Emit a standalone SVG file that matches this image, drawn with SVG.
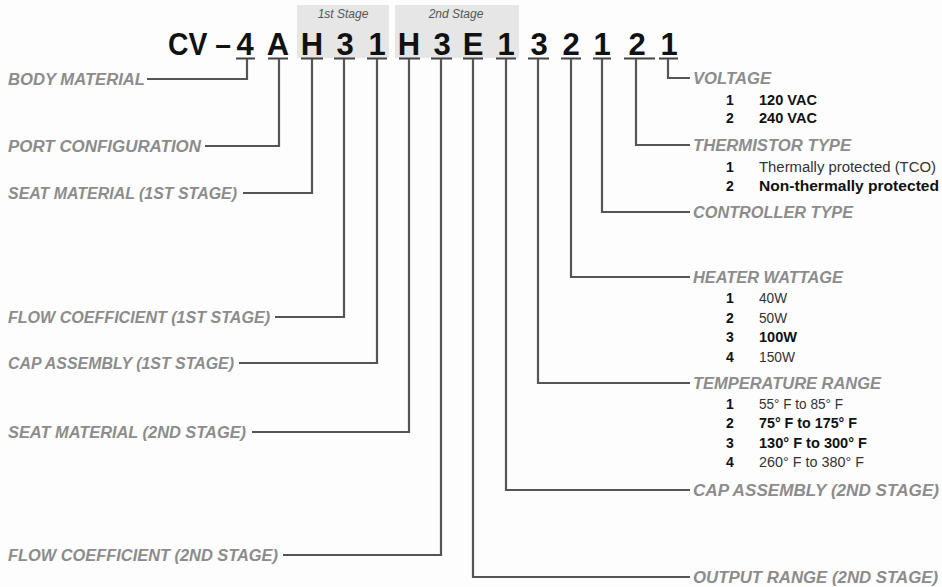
<svg xmlns="http://www.w3.org/2000/svg" width="942" height="587" viewBox="0 0 942 587">
<style>
.bg{fill:#fdfdfd}
.stagebox{fill:#e6e6e6}
.stage{font-family:"Liberation Sans",Arial,sans-serif;font-style:italic;font-size:12px;fill:#555;text-anchor:middle}
.code{font-family:"Liberation Sans",Arial,sans-serif;font-weight:bold;font-size:31px;fill:#111;text-anchor:middle}
.ul{stroke:#444;stroke-width:2.2;fill:none}
.conn path{stroke:#555;stroke-width:2.2;fill:none}
.lbl{font-family:"Liberation Sans",Arial,sans-serif;font-weight:bold;font-style:italic;font-size:16px;fill:#8c8c8c}
.num{font-family:"Liberation Sans",Arial,sans-serif;font-weight:bold;font-size:14px;fill:#111;text-anchor:middle}
.val{font-family:"Liberation Sans",Arial,sans-serif;font-size:14px;fill:#333}
.valb{font-family:"Liberation Sans",Arial,sans-serif;font-weight:bold;font-size:14px;fill:#111}
</style>
<rect class="bg" x="0" y="0" width="942" height="587"/>
<g id="stages">
<rect class="stagebox" x="297" y="5" width="92" height="53"/>
<rect class="stagebox" x="395" y="5" width="124" height="53"/>
<text class="stage" x="343" y="18">1st Stage</text>
<text class="stage" x="456" y="18">2nd Stage</text>
</g>
<g id="code">
<text class="code" x="231" y="55" style="text-anchor:end" textLength="63" lengthAdjust="spacingAndGlyphs">CV –</text>
<text class="code" x="245" y="55">4</text>
<text class="code" x="278" y="55">A</text>
<text class="code" x="312" y="55">H</text>
<text class="code" x="345" y="55">3</text>
<text class="code" x="377" y="55">1</text>
<text class="code" x="409" y="55">H</text>
<text class="code" x="442" y="55">3</text>
<text class="code" x="473" y="55">E</text>
<text class="code" x="506" y="55">1</text>
<text class="code" x="539" y="55">3</text>
<text class="code" x="571" y="55">2</text>
<text class="code" x="602" y="55">1</text>
<text class="code" x="637" y="55">2</text>
<text class="code" x="669" y="55">1</text>
<path class="ul" d="M236 58.5h19M268 58.5h20M301 58.5h22M334 58.5h21M367 58.5h20M399 58.5h21M431 58.5h21M463 58.5h20M496 58.5h20M528 58.5h21M561 58.5h20M593 58.5h18M624 58.5h31M659 58.5h19"/>
</g>
<g class="conn" id="connectors">
<path d="M247 59V79H147"/>
<path d="M279 59V146H205"/>
<path d="M312 59V193H243"/>
<path d="M344 59V317H275"/>
<path d="M377 59V363H239"/>
<path d="M409 59V432H252"/>
<path d="M441 59V555H283"/>
<path d="M473 59V577H690"/>
<path d="M506 59V490H690"/>
<path d="M538 59V383H690"/>
<path d="M571 59V277H690"/>
<path d="M602 59V212H690"/>
<path d="M636 59V145H690"/>
<path d="M668 59V78H690"/>
</g>
<g id="body-material"><text class="lbl" x="8" y="85" textLength="137" lengthAdjust="spacingAndGlyphs">BODY MATERIAL</text></g>
<g id="port-configuration"><text class="lbl" x="8" y="152" textLength="193" lengthAdjust="spacingAndGlyphs">PORT CONFIGURATION</text></g>
<g id="seat-material-1"><text class="lbl" x="8" y="199" textLength="229" lengthAdjust="spacingAndGlyphs">SEAT MATERIAL (1ST STAGE)</text></g>
<g id="flow-coefficient-1"><text class="lbl" x="8" y="323" textLength="262" lengthAdjust="spacingAndGlyphs">FLOW COEFFICIENT (1ST STAGE)</text></g>
<g id="cap-assembly-1"><text class="lbl" x="8" y="369" textLength="226" lengthAdjust="spacingAndGlyphs">CAP ASSEMBLY (1ST STAGE)</text></g>
<g id="seat-material-2"><text class="lbl" x="8" y="438" textLength="238" lengthAdjust="spacingAndGlyphs">SEAT MATERIAL (2ND STAGE)</text></g>
<g id="flow-coefficient-2"><text class="lbl" x="8" y="561" textLength="270" lengthAdjust="spacingAndGlyphs">FLOW COEFFICIENT (2ND STAGE)</text></g>
<g id="voltage">
<text class="lbl" x="693" y="84" textLength="78" lengthAdjust="spacingAndGlyphs">VOLTAGE</text>
<text class="num" x="730" y="105">1</text><text class="valb" x="759" y="105" textLength="58" lengthAdjust="spacingAndGlyphs">120 VAC</text>
<text class="num" x="730" y="123">2</text><text class="valb" x="759" y="123" textLength="58" lengthAdjust="spacingAndGlyphs">240 VAC</text>
</g>
<g id="thermistor-type">
<text class="lbl" x="693" y="151" textLength="158" lengthAdjust="spacingAndGlyphs">THERMISTOR TYPE</text>
<text class="num" x="730" y="172">1</text><text class="val" x="759" y="172" textLength="177" lengthAdjust="spacingAndGlyphs">Thermally protected (TCO)</text>
<text class="num" x="730" y="191">2</text><text class="valb" x="759" y="191" textLength="180" lengthAdjust="spacingAndGlyphs">Non-thermally protected</text>
</g>
<g id="controller-type">
<text class="lbl" x="693" y="218" textLength="160" lengthAdjust="spacingAndGlyphs">CONTROLLER TYPE</text>
</g>
<g id="heater-wattage">
<text class="lbl" x="693" y="283" textLength="150" lengthAdjust="spacingAndGlyphs">HEATER WATTAGE</text>
<text class="num" x="730" y="303">1</text><text class="val" x="759" y="303" textLength="28" lengthAdjust="spacingAndGlyphs">40W</text>
<text class="num" x="730" y="323">2</text><text class="val" x="759" y="323" textLength="28" lengthAdjust="spacingAndGlyphs">50W</text>
<text class="num" x="730" y="342">3</text><text class="valb" x="759" y="342" textLength="38" lengthAdjust="spacingAndGlyphs">100W</text>
<text class="num" x="730" y="362">4</text><text class="val" x="759" y="362" textLength="36" lengthAdjust="spacingAndGlyphs">150W</text>
</g>
<g id="temperature-range">
<text class="lbl" x="693" y="389" textLength="188" lengthAdjust="spacingAndGlyphs">TEMPERATURE RANGE</text>
<text class="num" x="730" y="409">1</text><text class="val" x="759" y="409" textLength="84" lengthAdjust="spacingAndGlyphs">55° F to 85° F</text>
<text class="num" x="730" y="428">2</text><text class="valb" x="759" y="428" textLength="98" lengthAdjust="spacingAndGlyphs">75° F to 175° F</text>
<text class="num" x="730" y="448">3</text><text class="valb" x="759" y="448" textLength="108" lengthAdjust="spacingAndGlyphs">130° F to 300° F</text>
<text class="num" x="730" y="467">4</text><text class="val" x="759" y="467" textLength="105" lengthAdjust="spacingAndGlyphs">260° F to 380° F</text>
</g>
<g id="cap-assembly-2"><text class="lbl" x="693" y="496" textLength="246" lengthAdjust="spacingAndGlyphs">CAP ASSEMBLY (2ND STAGE)</text></g>
<g id="output-range-2"><text class="lbl" x="693" y="583" textLength="245" lengthAdjust="spacingAndGlyphs">OUTPUT RANGE (2ND STAGE)</text></g>
</svg>
